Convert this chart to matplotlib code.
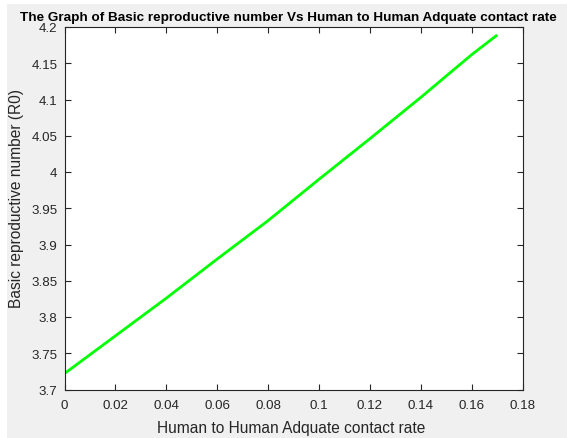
import numpy as np
import matplotlib
matplotlib.use("Agg")
import matplotlib.pyplot as plt
from matplotlib.patches import Rectangle

# contact rate vs basic reproductive number R0
contact_rate = [0.0, 0.02, 0.04, 0.06, 0.08, 0.10, 0.12, 0.14, 0.16, 0.17]
r0_values = [3.722, 3.774, 3.826, 3.880, 3.933, 3.990, 4.046, 4.103, 4.162, 4.189]

x_ticks = [0, 0.02, 0.04, 0.06, 0.08, 0.1, 0.12, 0.14, 0.16, 0.18]
y_ticks = [3.7, 3.75, 3.8, 3.85, 3.9, 3.95, 4.0, 4.05, 4.1, 4.15, 4.2]

plt.rcParams['font.family'] = ['Liberation Sans', 'DejaVu Sans']
ink = '#262626'

W, H = 567, 439
fig = plt.figure(figsize=(W / 100, H / 100), dpi=100, facecolor='white')
# grey window background, with a thin white strip on the top and left
fig.patches.append(Rectangle((7 / W, 0), 1 - 7 / W, 1 - 5 / H,
                             transform=fig.transFigure, facecolor='#f0f0f0',
                             edgecolor='none', zorder=-1))

left, right, top, bottom = 64.5, 522.7, 28.0, 390.5
ax = fig.add_axes([left / W, 1 - bottom / H, (right - left) / W, (bottom - top) / H])
ax.set_facecolor('white')

ax.plot(contact_rate, r0_values, color='#00ff00', lw=2.0, solid_capstyle='butt')

ax.set_xlim(0, 0.18)
ax.set_ylim(3.7, 4.2)
ax.set_xticks(x_ticks)
ax.set_xticklabels(['0', '0.02', '0.04', '0.06', '0.08', '0.1', '0.12', '0.14', '0.16', '0.18'])
ax.set_yticks(y_ticks)
ax.set_yticklabels(['3.7', '3.75', '3.8', '3.85', '3.9', '3.95', '4', '4.05', '4.1', '4.15', '4.2'])

ax.tick_params(direction='in', length=4, width=0.8, colors=ink, labelsize=9.6,
               top=True, right=True)
ax.tick_params(axis='x', pad=7)
ax.tick_params(axis='y', pad=5)
for s in ax.spines.values():
    s.set_color(ink)
    s.set_linewidth(0.8)

# title and axis labels placed in figure pixels
fig.text(288 / W, 1 - 18 / H,
         'The Graph of Basic reproductive number Vs Human to Human Adquate contact rate',
         ha='center', va='center', fontsize=9.7, fontweight='bold', color='black')
fig.text(291 / W, 1 - 429 / H, 'Human to Human Adquate contact rate',
         ha='center', va='center', fontsize=11.2, color=ink)
fig.text(17 / W, 1 - 199 / H, 'Basic reproductive number (R0)', rotation=90,
         ha='center', va='center', fontsize=11.2, color=ink)

fig.savefig('out.png', dpi=100, facecolor=fig.get_facecolor())
